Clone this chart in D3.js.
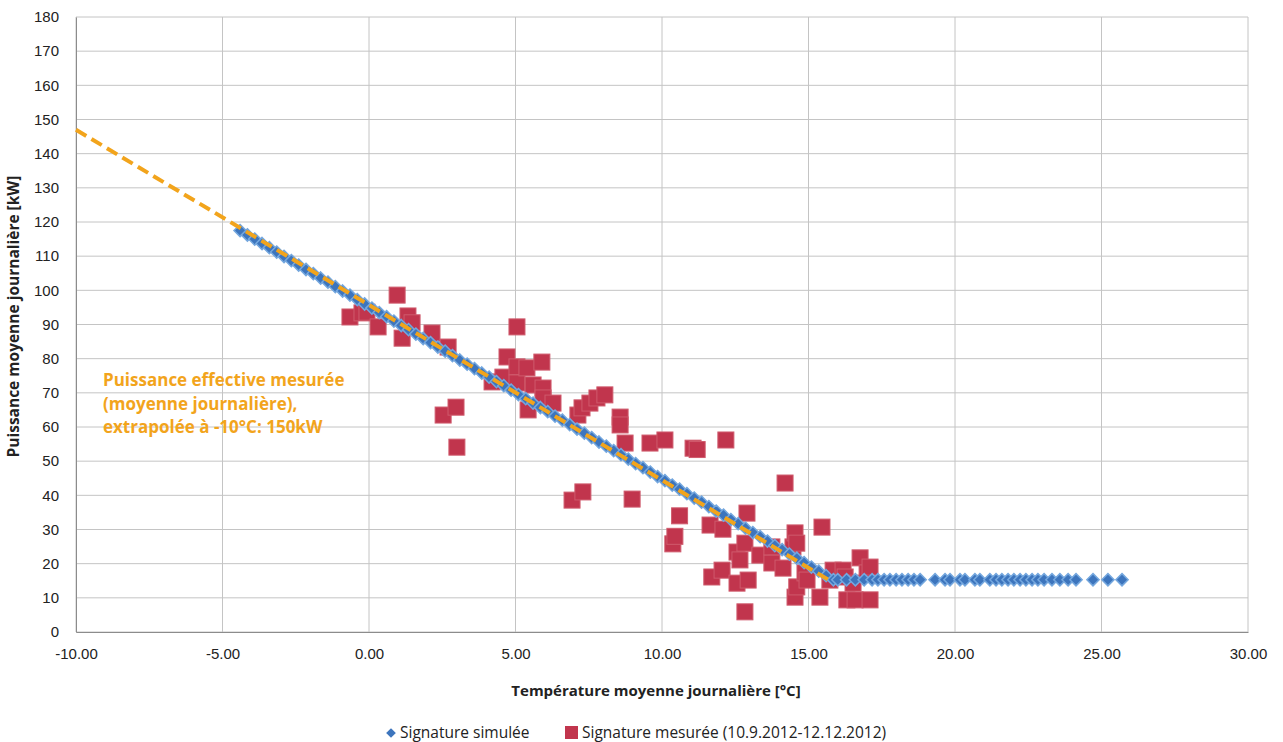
<!DOCTYPE html>
<html>
<head>
<meta charset="utf-8">
<script src="https://cdn.jsdelivr.net/npm/d3@7"></script>
<style>
  body { margin: 0; background: #fff; }
  svg { display: block; font-family: "Open Sans", sans-serif; }
</style>
</head>
<body>
<div id="chart"></div>
<script>
// ticks
const X_TICKS = [-10, -5, 0, 5, 10, 15, 20, 25, 30]
const Y_TICKS = [0, 10, 20, 30, 40, 50, 60, 70, 80, 90, 100, 110, 120, 130, 140, 150, 160, 170, 180]

// Signature simulée (temperature, power)
const simTemp = [
  -4.40, -4.15, -3.90, -3.65, -3.40, -3.15, -2.90, -2.65, -2.40, -2.15,
  -1.90, -1.65, -1.40, -1.15, -0.90, -0.65, -0.40, -0.15, 0.10, 0.35,
  0.60, 0.85, 1.10, 1.35, 1.60, 1.85, 2.10, 2.35, 2.60, 2.85,
  3.10, 3.35, 3.60, 3.85, 4.10, 4.35, 4.60, 4.85, 5.10, 5.35,
  5.60, 5.85, 6.10, 6.35, 6.60, 6.85, 7.10, 7.35, 7.60, 7.85,
  8.10, 8.35, 8.60, 8.85, 9.10, 9.35, 9.60, 9.85, 10.10, 10.35,
  10.60, 10.85, 11.10, 11.35, 11.60, 11.85, 12.10, 12.35, 12.60, 12.85,
  13.10, 13.35, 13.60, 13.85, 14.10, 14.35, 14.60, 14.85, 15.10, 15.35,
  15.60, 15.85,
  16.0, 16.3, 16.6, 16.9, 17.17, 17.37, 17.58, 17.78, 17.99, 18.19,
  18.4, 18.6, 18.81, 19.32, 19.66, 19.83, 20.17, 20.34, 20.68, 20.85,
  21.19, 21.4, 21.6, 21.81, 22.01, 22.22, 22.42, 22.63, 22.83, 23.04,
  23.31, 23.58, 23.86, 24.13, 24.71, 25.22, 25.7
]
const simPower = [
  117.5, 116.2, 115.0, 113.7, 112.5, 111.2, 109.9, 108.7, 107.4, 106.1,
  104.9, 103.6, 102.4, 101.1, 99.8, 98.6, 97.3, 96.0, 94.8, 93.5,
  92.3, 91.0, 89.7, 88.5, 87.2, 85.9, 84.7, 83.4, 82.2, 80.9,
  79.6, 78.4, 77.1, 75.8, 74.6, 73.3, 72.1, 70.8, 69.5, 68.3,
  67.0, 65.7, 64.5, 63.2, 62.0, 60.7, 59.4, 58.2, 56.9, 55.6,
  54.4, 53.1, 51.9, 50.6, 49.3, 48.1, 46.8, 45.5, 44.3, 43.0,
  41.8, 40.5, 39.2, 38.0, 36.7, 35.4, 34.2, 32.9, 31.7, 30.4,
  29.1, 27.9, 26.6, 25.3, 24.1, 22.8, 21.6, 20.3, 19.0, 17.8,
  16.5, 15.3,
  15.3, 15.3, 15.3, 15.3, 15.3, 15.3, 15.3, 15.3, 15.3, 15.3,
  15.3, 15.3, 15.3, 15.3, 15.3, 15.3, 15.3, 15.3, 15.3, 15.3,
  15.3, 15.3, 15.3, 15.3, 15.3, 15.3, 15.3, 15.3, 15.3, 15.3,
  15.3, 15.3, 15.3, 15.3, 15.3, 15.3, 15.3
]

// Signature mesurée (10.9.2012-12.12.2012)
const mesTemp = [
  -0.65, -0.24, -0.07, 0.31, 0.96, 1.33, 1.47, 1.13, 2.15, 2.70,
  2.53, 2.97, 3.00, 4.20, 4.57, 4.71, 5.05, 5.05, 5.05, 5.39, 5.43,
  5.60, 5.90, 5.94, 5.94, 6.28, 6.93, 7.13, 7.27, 7.30, 7.54,
  7.78, 8.05, 8.57, 8.57, 8.74, 8.98, 9.59, 10.10, 10.37, 10.44,
  10.60, 11.06, 11.20, 11.64, 11.70, 12.05, 12.08, 12.18, 12.56, 12.56,
  12.66, 12.83, 12.83, 12.90, 12.94, 13.34, 13.75, 13.75, 14.13, 14.20,
  14.47, 14.54, 14.54, 14.60, 14.60, 14.88, 14.95, 15.39, 15.46, 15.73,
  15.84, 16.18, 16.25, 16.31, 16.52, 16.59, 16.76, 17.00, 17.10, 17.10
]
const mesPower = [
  92.2, 93.4, 93.6, 89.3, 98.6, 92.5, 90.5, 86.0, 87.5, 83.4,
  63.5, 65.8, 54.1, 73.2, 74.6, 80.5, 89.3, 77.6, 72.9, 77.3, 65.0,
  72.3, 79.0, 71.4, 68.5, 67.0, 38.6, 63.5, 65.6, 41.0, 67.0,
  68.5, 69.4, 62.9, 60.6, 55.3, 38.9, 55.3, 56.2, 25.8, 28.0,
  34.0, 53.8, 53.4, 31.3, 16.1, 18.1, 30.1, 56.2, 23.4, 14.3,
  21.1, 26.0, 5.9, 34.8, 15.2, 22.5, 20.2, 24.9, 18.7, 43.6,
  24.9, 29.0, 10.2, 26.0, 13.2, 17.3, 15.2, 10.2, 30.7, 15.2,
  18.1, 18.1, 16.1, 9.4, 14.3, 9.4, 21.7, 17.3, 19.0, 9.4
]

// trend line of the measured series (end points)
const trendTemp = [-10, 15.7]
const trendPower = [147, 15.2]

const NOTE_LINES = [
  "Puissance effective mesurée",
  "(moyenne journalière),",
  "extrapolée à -10°C: 150kW"
]

const WIDTH = 1283
const HEIGHT = 742
const MARGIN = { LEFT: 76, RIGHT: 35, TOP: 17, BOTTOM: 110 }
const W = WIDTH - MARGIN.LEFT - MARGIN.RIGHT
const H = HEIGHT - MARGIN.TOP - MARGIN.BOTTOM

const BLUE = "#3d75bd"
const BLUE_EDGE = "#74a7de"
const RED = "#c1354d"
const ORANGE = "#f2a41c"

const svg = d3.select("#chart").append("svg")
  .attr("width", WIDTH)
  .attr("height", HEIGHT)

const g = svg.append("g")
  .attr("transform", `translate(${MARGIN.LEFT}, ${MARGIN.TOP})`)

const x = d3.scaleLinear().domain([-10, 30]).range([0, W])
const y = d3.scaleLinear().domain([0, 180]).range([H, 0])

// grid
g.append("g")
  .selectAll("line")
  .data(Y_TICKS)
  .enter().append("line")
    .attr("x1", 0).attr("x2", W)
    .attr("y1", d => y(d)).attr("y2", d => y(d))
    .attr("stroke", "#c4c4c4")
    .attr("stroke-width", 1)

g.append("g")
  .selectAll("line")
  .data(X_TICKS)
  .enter().append("line")
    .attr("x1", d => x(d)).attr("x2", d => x(d))
    .attr("y1", 0).attr("y2", H)
    .attr("stroke", "#c4c4c4")
    .attr("stroke-width", 1)

// axes
const fmt = d3.format(".2f")
const xAxisCall = d3.axisBottom(x)
  .tickValues(X_TICKS)
  .tickSize(0)
  .tickPadding(16)
  .tickFormat(d => fmt(d).replace("\u2212", "-"))
g.append("g")
  .attr("class", "x axis")
  .attr("transform", `translate(0, ${H})`)
  .call(xAxisCall)
  .call(a => a.select(".domain").attr("stroke", "#8c8c8c"))
  .selectAll("text")
    .attr("font-size", "15px")
    .attr("fill", "#222")

const yAxisCall = d3.axisLeft(y)
  .tickValues(Y_TICKS)
  .tickSize(0)
  .tickPadding(17)
g.append("g")
  .attr("class", "y axis")
  .call(yAxisCall)
  .call(a => a.select(".domain").attr("stroke", "#8c8c8c"))
  .selectAll("text")
    .attr("font-size", "15px")
    .attr("fill", "#222")

// measured squares
const mesData = mesTemp.map((t, i) => ({ t, p: mesPower[i] }))
const SQ = 16
g.append("g")
  .selectAll("rect")
  .data(mesData)
  .enter().append("rect")
    .attr("x", d => x(d.t) - SQ / 2)
    .attr("y", d => y(d.p) - SQ / 2)
    .attr("width", SQ)
    .attr("height", SQ)
    .attr("fill", RED)
    .attr("stroke", "#cf5a6c")
    .attr("stroke-width", 1)

// simulated diamonds
const simData = simTemp.map((t, i) => ({ t, p: simPower[i] }))
const diamond = d3.symbol().type(d3.symbolDiamond2).size(95)
g.append("g")
  .selectAll("path")
  .data(simData)
  .enter().append("path")
    .attr("d", diamond)
    .attr("transform", d => `translate(${x(d.t)}, ${y(d.p)})`)
    .attr("fill", BLUE)
    .attr("stroke", BLUE_EDGE)
    .attr("stroke-width", 1.5)

// trend line
g.append("line")
  .attr("x1", x(trendTemp[0])).attr("y1", y(trendPower[0]))
  .attr("x2", x(trendTemp[1])).attr("y2", y(trendPower[1]))
  .attr("stroke", ORANGE)
  .attr("stroke-width", 4)
  .attr("stroke-dasharray", "12,6")

// annotation
g.append("text")
  .attr("x", 27)
  .attr("y", 369)
  .attr("fill", ORANGE)
  .attr("font-size", "17px")
  .attr("font-weight", "bold")
  .selectAll("tspan")
  .data(NOTE_LINES)
  .enter().append("tspan")
    .attr("x", 27)
    .attr("dy", (d, i) => i === 0 ? 0 : 23.5)
    .text(d => d)

// axis labels
g.append("text")
  .attr("x", W / 2 - 6)
  .attr("y", H + 64)
  .attr("text-anchor", "middle")
  .attr("font-size", "15px")
  .attr("font-weight", "bold")
  .attr("fill", "#222")
  .text("Température moyenne journalière [°C]")

g.append("text")
  .attr("x", -(H / 2) + 8)
  .attr("y", -57)
  .attr("transform", "rotate(-90)")
  .attr("text-anchor", "middle")
  .attr("font-size", "15.5px")
  .attr("font-weight", "bold")
  .attr("fill", "#222")
  .text("Puissance moyenne journalière [kW]")

// legend
const legend = svg.append("g").attr("transform", "translate(0, 738)")
legend.append("path")
  .attr("d", d3.symbol().type(d3.symbolDiamond2).size(60))
  .attr("transform", "translate(391, -5)")
  .attr("fill", BLUE)
legend.append("text")
  .attr("x", 400).attr("y", 0)
  .attr("font-size", "15.5px")
  .attr("fill", "#222")
  .text("Signature simulée")
legend.append("rect")
  .attr("x", 565).attr("y", -12)
  .attr("width", 13).attr("height", 13)
  .attr("fill", RED)
legend.append("text")
  .attr("x", 582).attr("y", 0)
  .attr("font-size", "15.5px")
  .attr("fill", "#222")
  .text("Signature mesurée (10.9.2012-12.12.2012)")
</script>
</body>
</html>
